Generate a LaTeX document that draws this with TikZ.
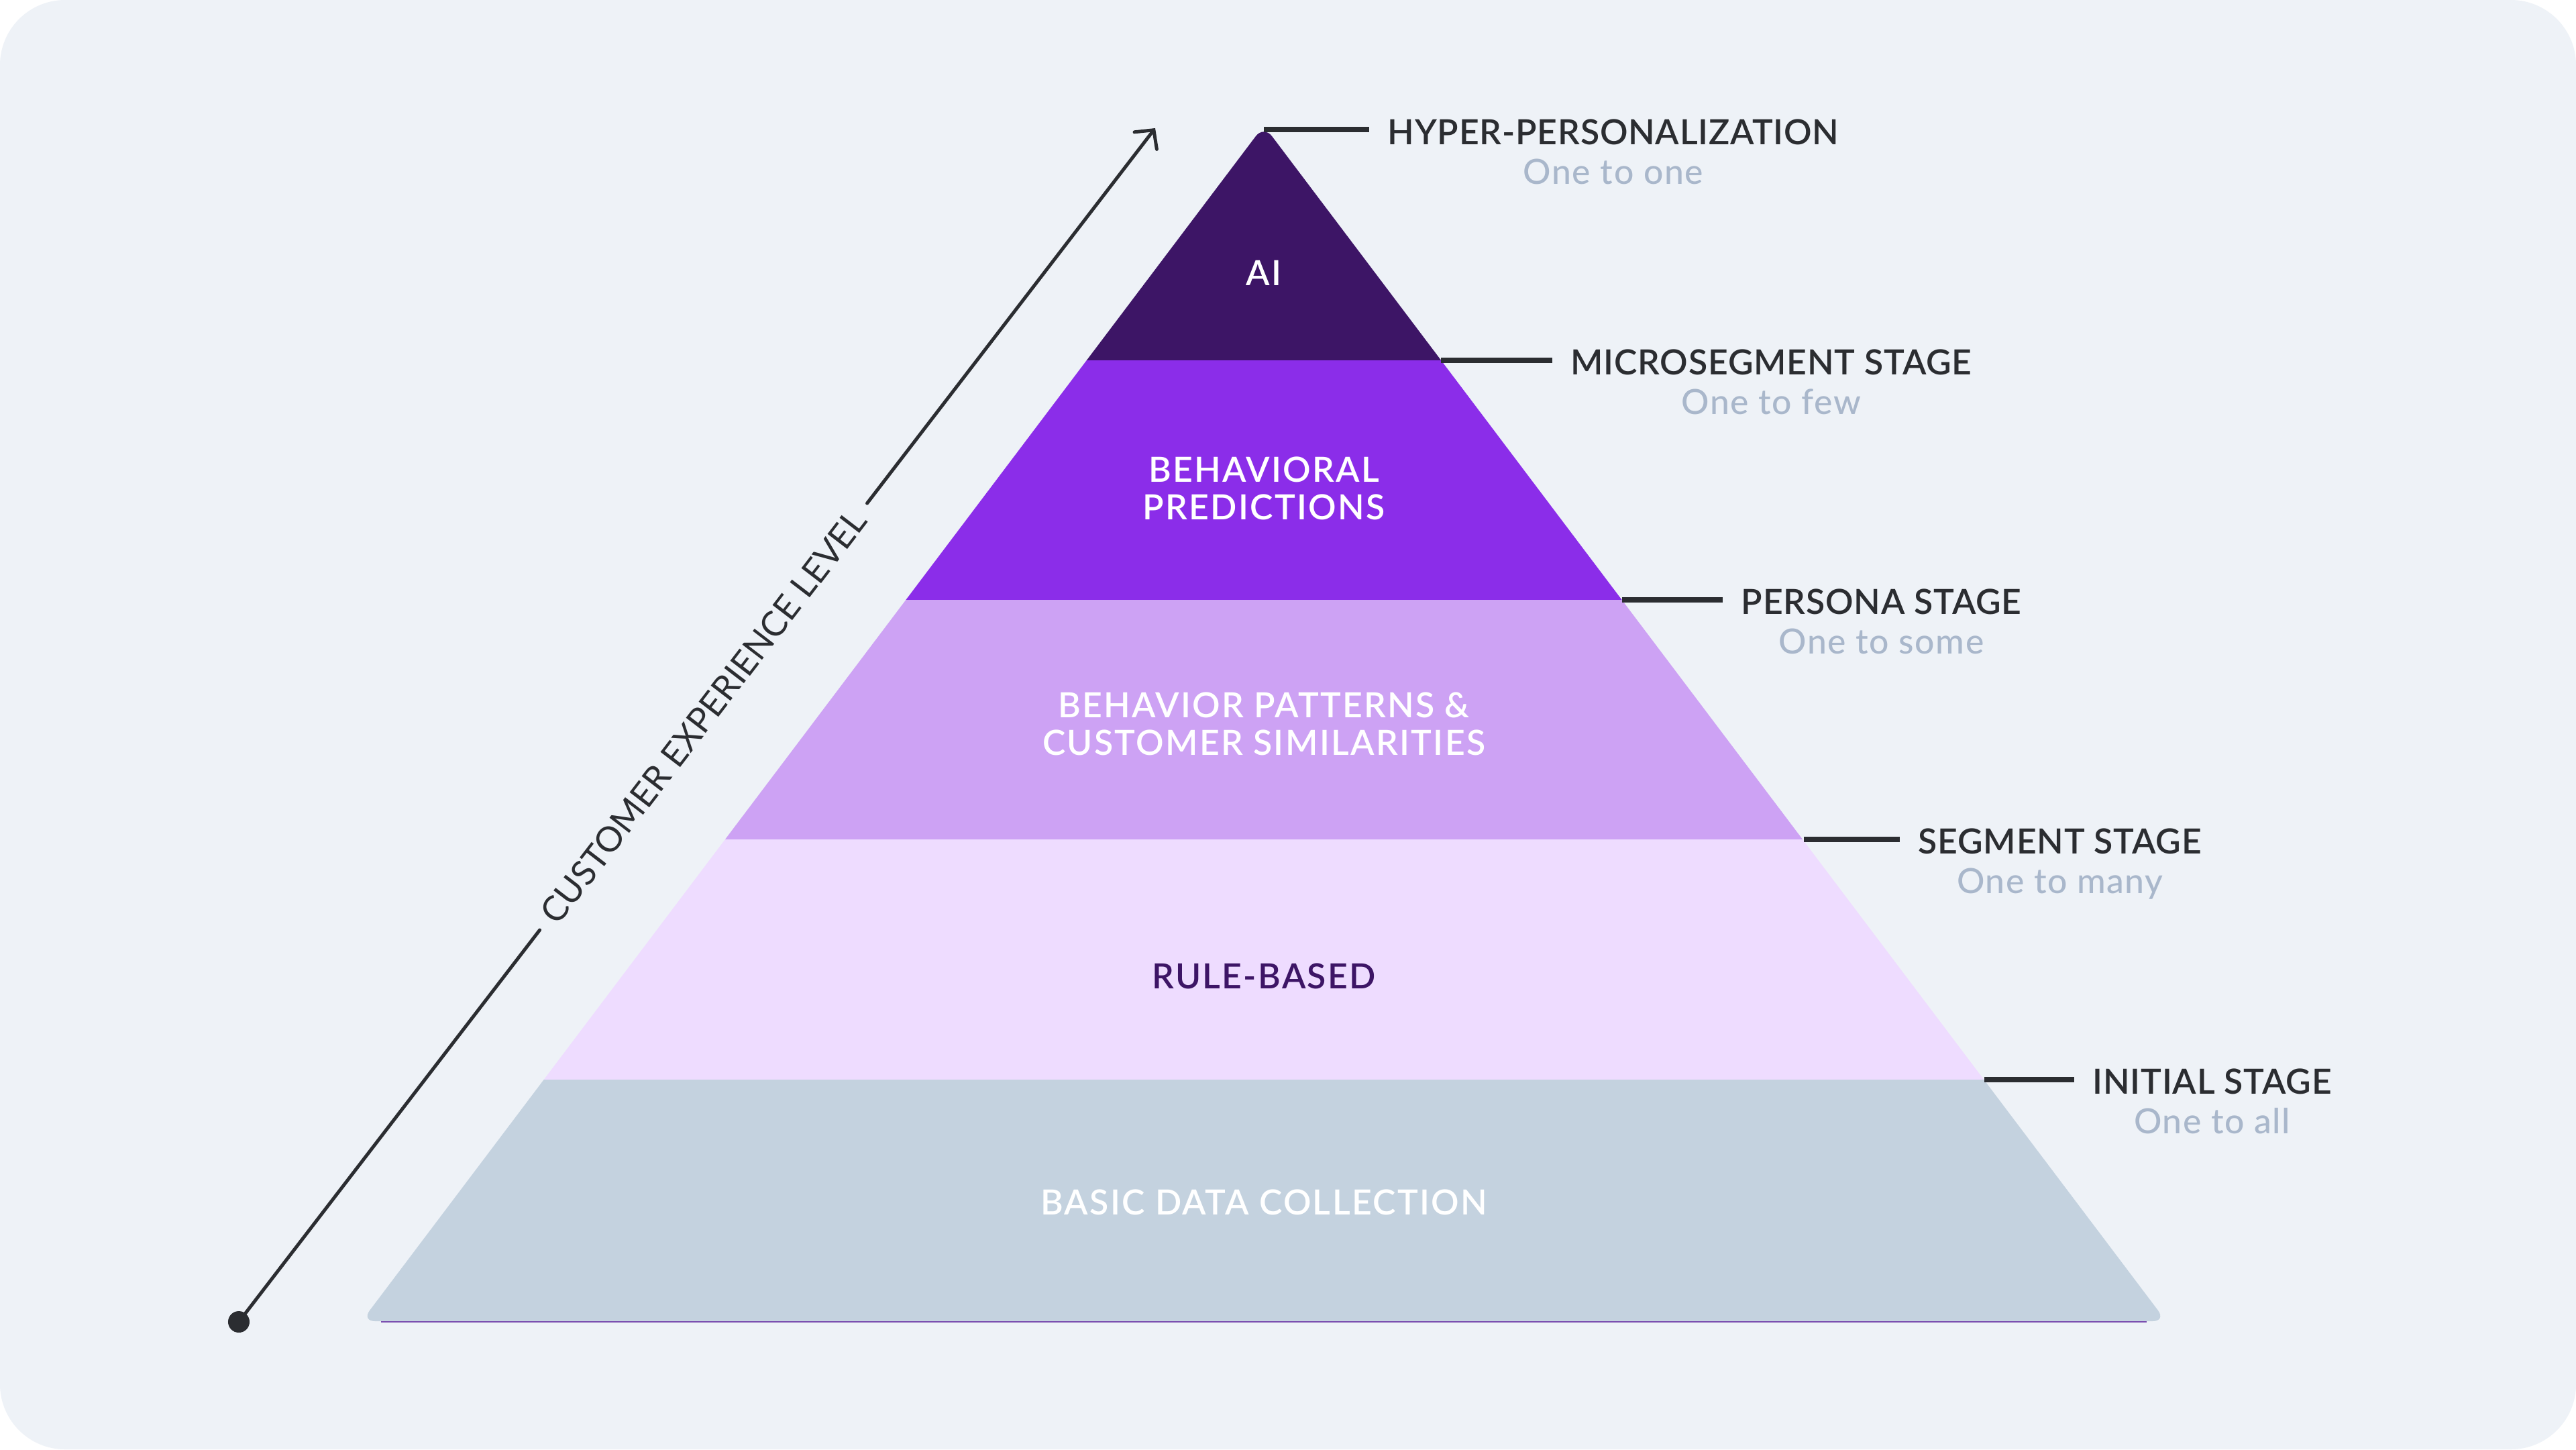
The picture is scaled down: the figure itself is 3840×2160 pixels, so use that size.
\documentclass[tikz,border=0pt]{standalone}
\usepackage{fontspec}
\setmainfont{Lato}
\newfontfamily\semifont{Lato Semibold}[LetterSpace=1.5]
\newfontfamily\layerfont{Lato Semibold}[LetterSpace=4.5]
\newfontfamily\medfont{Lato Medium}[LetterSpace=3]
\usepackage{xcolor}
\usepackage{tikz}
\usetikzlibrary{arrows.meta,positioning,calc}

\definecolor{panelbg}{HTML}{EEF2F7}
\definecolor{inkdark}{HTML}{2B2D31}
\definecolor{subgray}{HTML}{A9B7CB}
\definecolor{aipurple}{HTML}{3D1566}
\definecolor{predpurple}{HTML}{8B2DE9}
\definecolor{patternlilac}{HTML}{CDA2F4}
\definecolor{rulelilac}{HTML}{EEDCFF}
\definecolor{basegray}{HTML}{C4D2DF}
\definecolor{baseedge}{HTML}{7A4FB0}

\tikzset{
  layertext/.style={font=\layerfont\fontsize{14.7}{15.9}\selectfont, text=white, align=center, inner sep=0pt},
  stagelabel/.style={font=\semifont\fontsize{14.7}{15.9}\selectfont, text=inkdark, anchor=west, inner sep=0pt},
  stagesub/.style={font=\medfont\fontsize{14.7}{15.9}\selectfont, text=subgray, anchor=base, inner sep=0pt},
  leader/.style={draw=inkdark, line width=0.08cm, shorten >=0.27cm},
  axisline/.style={draw=inkdark, line width=0.05cm, line cap=round},
  axislabel/.style={font=\fontsize{14.7}{15.9}\selectfont, text=inkdark, rotate=52.5, fill=panelbg, inner xsep=0.2cm, inner ysep=0pt}
}

\begin{document}
\begin{tikzpicture}[x=0.01cm, y=-0.01cm]
    % Panel
    \fill[white] (0,0) rectangle (3840,2160);
    \fill[panelbg, rounded corners=0.97cm] (0,0) rectangle (3840,2160);
    \useasboundingbox (0,0) rectangle (3840,2160);

    % Pyramid outline
    \coordinate (apex) at (1884,187);
    \coordinate (baseL) at (539,1969);
    \coordinate (baseR) at (3229,1969);

    % Layers, cut out of the triangle
    \begin{scope}
        \clip[rounded corners=0.2cm] (apex) -- (baseR) -- (baseL) -- cycle;
        \fill[aipurple] (400,100) rectangle (3400,537);
        \fill[predpurple] (400,537) rectangle (3400,894);
        \fill[patternlilac] (400,894) rectangle (3400,1251);
        \fill[rulelilac] (400,1251) rectangle (3400,1609);
        \fill[basegray] (400,1609) rectangle (3400,2100);
    \end{scope}
    \draw[draw=baseedge, line width=0.015cm] (568,1970) -- (3200,1970);

    % Layer texts
    \node[layertext] (ai) at (1884,407) {AI};
    \node[layertext] (pred) at (1884,728) {BEHAVIORAL\\PREDICTIONS};
    \node[layertext] (pattern) at (1884,1079) {BEHAVIOR PATTERNS \&\\CUSTOMER SIMILARITIES};
    \node[layertext, text=aipurple] (rule) at (1884,1455) {RULE-BASED};
    \node[layertext] (basic) at (1884,1792) {BASIC DATA COLLECTION};

    % Edge points on the right side
    \coordinate (e0) at (1884,193);
    \coordinate (e1) at (2148,537);
    \coordinate (e2) at (2418,894);
    \coordinate (e3) at (2689,1251);
    \coordinate (e4) at (2958,1609);

    % Stage labels
    \node[stagelabel] (hyper) at (2068,197) {HYPER-PERSONALIZATION};
    \node[stagesub] (hypersub) at ($(hyper.base)+(0,59)$) {One to one};
    \node[stagelabel] (micro) at (2341,540) {MICROSEGMENT STAGE};
    \node[stagesub] (microsub) at ($(micro.base)+(0,59)$) {One to few};
    \node[stagelabel] (persona) at (2595,897) {PERSONA STAGE};
    \node[stagesub] (personasub) at ($(persona.base)+(0,59)$) {One to some};
    \node[stagelabel] (segment) at (2859,1254) {SEGMENT STAGE};
    \node[stagesub] (segmentsub) at ($(segment.base)+(0,59)$) {One to many};
    \node[stagelabel] (initial) at (3119,1612) {INITIAL STAGE};
    \node[stagesub] (initialsub) at ($(initial.base)+(0,59)$) {One to all};

    % Leader lines
    \draw[leader] (e0) -- (e0 -| hyper.west);
    \draw[leader] (e1) -- (e1 -| micro.west);
    \draw[leader] (e2) -- (e2 -| persona.west);
    \draw[leader] (e3) -- (e3 -| segment.west);
    \draw[leader] (e4) -- (e4 -| initial.west);

    % Experience axis
    \node[circle, fill=inkdark, minimum size=0.32cm, inner sep=0pt] (dot) at (356,1970) {};
    \coordinate (tip) at (1722,191);
    \node[axislabel] (axis) at ($(dot)!0.507!(tip)$) {CUSTOMER EXPERIENCE LEVEL};
    \draw[axisline] (dot) -- (axis.west);
    \draw[axisline, -{Straight Barb[length=0.2cm, width=0.42cm, line cap=round]}] (axis.east) -- (tip);
\end{tikzpicture}
\end{document}
